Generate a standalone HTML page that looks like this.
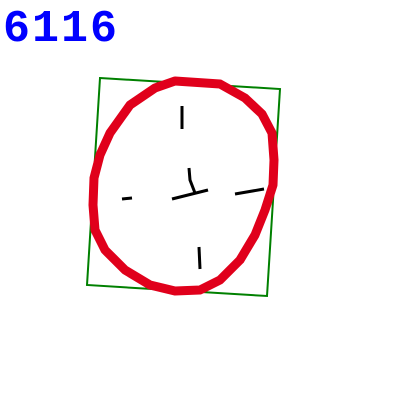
<!DOCTYPE html>
<html>
<head>
<meta charset="utf-8">
<style>
html,body{margin:0;padding:0;background:#fff;}
svg{display:block;}
</style>
</head>
<body>
<svg width="400" height="400" viewBox="0 0 400 400">
  <text x="3" y="41" font-family="Liberation Mono, monospace" font-size="45" font-weight="bold" letter-spacing="2" fill="#0000ff">6116</text>
  <polygon points="100,78 280,89 267,296 87,285" fill="none" stroke="#008000" stroke-width="2"/>
  <polygon points="175,81 220,84 245,98 262,114 272,133 274,160 273,185 265,210 255,235 240,260 220,280 200,290 175,291 150,285 125,270 105,250 95,230 93,205 94,178 100,155 110,133 130,105 155,88" fill="none" stroke="#e0001b" stroke-width="9" stroke-linejoin="round"/>
  <g stroke="#000" stroke-width="3" fill="none" stroke-linecap="butt">
    <line x1="182" y1="106" x2="182" y2="129"/>
    <line x1="122" y1="199" x2="132" y2="198"/>
    <line x1="172" y1="199" x2="208" y2="190"/>
    <line x1="235" y1="194" x2="264" y2="189"/>
    <line x1="199" y1="247" x2="200" y2="269"/>
    <polyline points="189,168 190,180 195,193"/>
  </g>
</svg>
</body>
</html>
